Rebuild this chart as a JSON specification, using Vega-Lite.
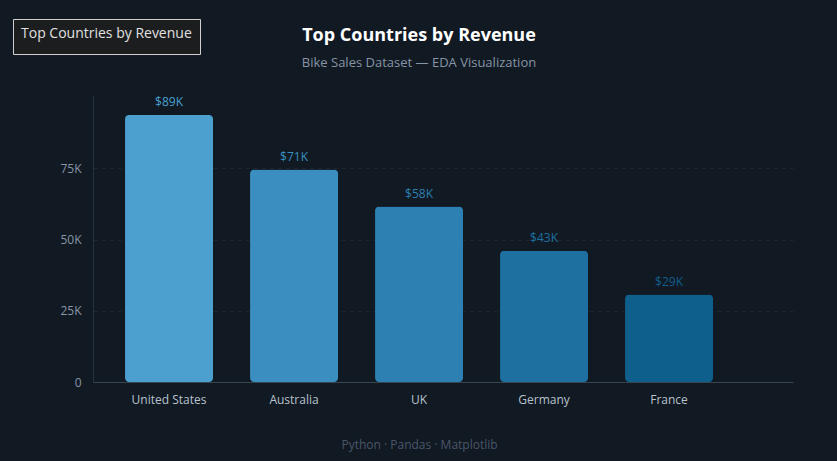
{
  "$schema": "https://vega.github.io/schema/vega-lite/v6.json",
  "width": 700,
  "height": 287,
  "autosize": {"type": "none"},
  "padding": {"left": 93, "top": 95, "right": 44, "bottom": 79},
  "background": "#111923",
  "title": {
    "text": "Top Countries by Revenue",
    "subtitle": "Bike Sales Dataset — EDA Visualization",
    "anchor": "middle",
    "dx": -24,
    "offset": -51,
    "font": "Open Sans",
    "fontSize": 18,
    "fontWeight": "bold",
    "color": "#ffffff",
    "subtitleFont": "Open Sans",
    "subtitleFontSize": 13,
    "subtitleColor": "#8795a6",
    "subtitlePadding": 12
  },
  "data": {
    "values": [
      {"Country": "United States", "Revenue": 93800, "label": "$89K"},
      {"Country": "Australia", "Revenue": 74600, "label": "$71K"},
      {"Country": "UK", "Revenue": 61600, "label": "$58K"},
      {"Country": "Germany", "Revenue": 46100, "label": "$43K"},
      {"Country": "France", "Revenue": 30700, "label": "$29K"}
    ]
  },
  "encoding": {
    "x": {
      "field": "Country",
      "type": "nominal",
      "sort": null,
      "scale": {"paddingInner": 0.296, "paddingOuter": 0.448, "align": 0.286},
      "axis": {
        "title": "Python · Pandas · Matplotlib",
        "titleColor": "#4a5668",
        "titleFont": "Open Sans",
        "titleFontSize": 12,
        "titleFontWeight": "normal",
        "titlePadding": 34,
        "titleX": 326,
        "labelAngle": 0,
        "labelColor": "#b8c2cd",
        "labelFont": "Open Sans",
        "labelFontSize": 12,
        "labelPadding": 12,
        "ticks": false,
        "domainColor": "#3a4552",
        "domainWidth": 1.2
      }
    },
    "y": {
      "field": "Revenue",
      "type": "quantitative",
      "scale": {"domain": [0, 100800], "nice": false},
      "axis": {
        "title": null,
        "values": [0, 25000, 50000, 75000],
        "labelExpr": "datum.value == 0 ? '0' : (datum.value / 1000) + 'K'",
        "labelColor": "#8795a6",
        "labelFont": "Open Sans",
        "labelFontSize": 12,
        "labelPadding": 12,
        "ticks": false,
        "domainColor": "#27313d",
        "grid": true,
        "gridColor": "#1f2935",
        "gridDash": [4, 4],
        "gridWidth": 0.8
      }
    },
    "color": {
      "field": "Country",
      "type": "nominal",
      "sort": null,
      "scale": {
        "domain": ["United States", "Australia", "UK", "Germany", "France"],
        "range": ["#4ba0cf", "#3a8fc0", "#2d80b2", "#1e70a1", "#0f5f8d"]
      },
      "legend": {
        "title": "Top Countries by Revenue",
        "orient": "none",
        "legendX": -80,
        "legendY": -76,
        "values": ["United States"],
        "labelExpr": "''",
        "symbolSize": 0,
        "symbolOpacity": 0,
        "symbolStrokeWidth": 0,
        "labelFontSize": 0,
        "labelOffset": 0,
        "columnPadding": 0,
        "rowPadding": 0,
        "titleOrient": "top",
        "titlePadding": 0,
        "direction": "vertical",
        "titleFont": "Open Sans",
        "titleFontSize": 14,
        "titleFontWeight": "normal",
        "titleColor": "#e0e0e0",
        "fillColor": "#1b1d1f",
        "strokeColor": "#d0d0d0",
        "padding": 8
      }
    }
  },
  "layer": [
    {
      "mark": {"type": "bar", "cornerRadius": 4}
    },
    {
      "mark": {
        "type": "text",
        "baseline": "bottom",
        "dy": -6,
        "font": "Open Sans",
        "fontSize": 12
      },
      "encoding": {
        "text": {"field": "label"}
      }
    }
  ],
  "config": {
    "view": {"stroke": null}
  }
}
